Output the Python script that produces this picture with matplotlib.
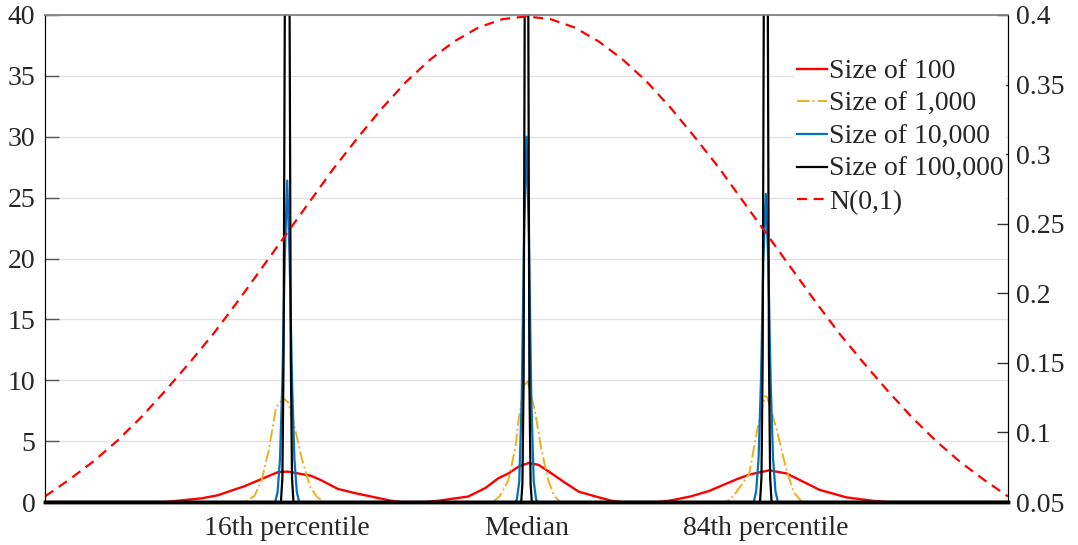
import matplotlib
matplotlib.use("Agg")
import matplotlib.pyplot as plt
import numpy as np
from matplotlib.ticker import FormatStrFormatter

# ── 数据 ────────────────────────────────────────────────────────

tick_pos = [-0.994, 0.0, 0.994]
tick_labels = ["16th percentile", "Median", "84th percentile"]

# Size of 100
x_100 = [-2.0, -1.50, -1.45, -1.35, -1.283, -1.171, -1.075, -1.033, -0.992, -0.95,
         -0.896, -0.854, -0.783, -0.7125, -0.617, -0.5625, -0.52,
         -0.42, -0.367, -0.242, -0.171, -0.117, -0.075, -0.033, 0.008, 0.05,
         0.104, 0.1625, 0.217, 0.2875, 0.354, 0.40,
         0.54, 0.592, 0.68, 0.758, 0.871, 0.925, 1.008, 1.079, 1.146, 1.217,
         1.329, 1.4375, 1.50, 2.0]
y_100 = [0, 0, 0.1, 0.3, 0.55, 1.3, 2.1, 2.45, 2.5, 2.35,
         2.16, 1.8, 1.07, 0.73, 0.33, 0.1, 0,
         0, 0.1, 0.45, 1.15, 1.95, 2.35, 2.9, 3.2, 3.05,
         2.35, 1.55, 0.85, 0.45, 0.1, 0,
         0, 0.1, 0.45, 0.9, 1.85, 2.25, 2.6, 2.35, 1.7, 1.0,
         0.38, 0.1, 0, 0]

# Size of 1,000
x_1k = [-2.0, -1.17, -1.13, -1.10, -1.07, -1.04, -1.01, -0.99, -0.96, -0.935,
        -0.90, -0.87, -0.84,
        -0.14, -0.11, -0.075, -0.046, -0.033, -0.01, 0.005, 0.035, 0.06,
        0.09, 0.115, 0.14,
        0.83, 0.86, 0.925, 0.958, 0.99, 1.00, 1.04, 1.08, 1.11, 1.14, 1.16, 2.0]
y_1k = [0, 0, 0.5, 1.8, 4.3, 7.8, 8.5, 8.2, 5.9, 3.7,
        1.3, 0.4, 0,
        0, 0.5, 1.8, 4.5, 6.7, 9.6, 9.9, 7.5, 4.5,
        1.8, 0.5, 0,
        0, 0.5, 2.3, 5.9, 8.7, 8.6, 5.9, 2.6, 0.8, 0.1, 0, 0]

# Size of 10,000
x_10k = [-2.0, -1.044, -1.034, -1.024, -1.014, -1.004, -0.994, -0.984, -0.974,
         -0.964, -0.954, -0.944,
         -0.048, -0.04, -0.03, -0.02, -0.01, 0.0, 0.01, 0.02, 0.03, 0.04, 0.048,
         0.944, 0.954, 0.964, 0.974, 0.984, 0.994, 1.004, 1.014, 1.024,
         1.034, 1.044, 2.0]
y_10k = [0, 0, 0.8, 3.5, 10, 20, 26.4, 20, 10,
         3.5, 0.8, 0,
         0, 0.2, 1.7, 8.4, 22, 30, 22, 8.4, 1.7, 0.2, 0,
         0, 0.9, 3.6, 10, 20, 25.3, 20, 10, 3.6,
         0.9, 0, 0]

# Size of 100,000
x_100k = [-2.0, -1.02, -1.014, -1.009, -1.004, -0.999, -0.994, -0.989, -0.984,
          -0.979, -0.974, -0.968,
          -0.022, -0.017, -0.012, -0.0075, -0.004, 0.0, 0.004, 0.0075, 0.012,
          0.017, 0.022,
          0.970, 0.976, 0.981, 0.9855, 0.9895, 0.994, 0.9985, 1.0025, 1.007,
          1.012, 1.018, 2.0]
y_100k = [0, 0, 2, 12, 40, 72, 90, 72, 40,
          12, 2, 0,
          0, 1.5, 10, 40, 80, 100, 80, 40, 10,
          1.5, 0,
          0, 2, 12, 40, 70, 88, 70, 40, 12,
          2, 0, 0]

# N(0,1) 概率密度（右轴）
x_norm = [-2.0, -1.9, -1.8, -1.7, -1.6, -1.5, -1.4, -1.3, -1.2, -1.1, -1.0,
          -0.9, -0.8, -0.7, -0.6, -0.5, -0.4, -0.3, -0.2, -0.1, 0.0,
          0.1, 0.2, 0.3, 0.4, 0.5, 0.6, 0.7, 0.8, 0.9, 1.0,
          1.1, 1.2, 1.3, 1.4, 1.5, 1.6, 1.7, 1.8, 1.9, 2.0]
y_norm = [0.054, 0.066, 0.079, 0.094, 0.111, 0.130, 0.150, 0.171, 0.194, 0.218, 0.242,
          0.266, 0.290, 0.312, 0.333, 0.352, 0.368, 0.381, 0.391, 0.397, 0.399,
          0.397, 0.391, 0.381, 0.368, 0.352, 0.333, 0.312, 0.290, 0.266, 0.242,
          0.218, 0.194, 0.171, 0.150, 0.130, 0.111, 0.094, 0.079, 0.066, 0.054]

# ── 样式 ──────────────────────────────────────────────────────────────────

plt.rcParams["font.family"] = ["Liberation Serif", "DejaVu Serif"]
plt.rcParams["font.size"] = 20

fig = plt.figure(figsize=(10.78, 5.45), dpi=100)
ax = fig.add_axes([45 / 1078, 1 - 502 / 545, 963 / 1078, 487 / 545])
ax2 = ax.twinx()

# ── 曲线 ──────────────────────────────────────────────────────────────────

h1, = ax.plot(x_100, y_100, color="#ff0000", lw=1.7, label="Size of 100", zorder=2)
h2, = ax.plot(x_1k, y_1k, color="#EDB120", lw=1.4, ls="-.", label="Size of 1,000", zorder=3)
h3, = ax.plot(x_10k, y_10k, color="#0072BD", lw=1.6, label="Size of 10,000", zorder=4)
h4, = ax.plot(x_100k, y_100k, color="black", lw=1.6, label="Size of 100,000", zorder=5)
h5, = ax2.plot(x_norm, y_norm, color="#ff0000", lw=1.6, ls=(0, (4.5, 3)), label="N(0,1)")

# ── 坐标轴 ────────────────────────────────────────────────────────────────

ax.set_xlim(-2.0, 2.0)
ax.set_ylim(0, 40)
ax.set_yticks(np.arange(0, 41, 5))
ax2.set_ylim(0.05, 0.4)
ax2.set_yticks([0.05, 0.1, 0.15, 0.2, 0.25, 0.3, 0.35, 0.4])
ax2.yaxis.set_major_formatter(FormatStrFormatter("%g"))

ax.set_xticks(tick_pos)
ax.set_xticklabels(tick_labels)
ax.tick_params(axis="x", length=0, pad=10, colors="#262626")
ax.tick_params(axis="y", direction="in", length=10, width=1, color="#555555",
               labelcolor="#262626", pad=7)
ax2.tick_params(axis="y", direction="in", length=8, width=1, color="#333333",
                labelcolor="#262626", pad=6)

ax.grid(axis="y", color="#e3e3e3", lw=1)
ax.set_axisbelow(True)

for a in (ax, ax2):
    a.spines["top"].set_color("#888888")
    a.spines["top"].set_linewidth(1.2)
    a.spines["left"].set_color("black")
    a.spines["right"].set_color("black")
    a.spines["bottom"].set_color("black")
    a.spines["bottom"].set_linewidth(2.5)
    a.spines["bottom"].set_zorder(10)

# ── 图例 ──────────────────────────────────────────────────────────────────

leg = ax2.legend(handles=[h1, h2, h3, h4, h5], loc="upper left",
                 bbox_to_anchor=(794 / 1078, 1 - 56 / 545),
                 bbox_transform=fig.transFigure,
                 frameon=True, facecolor="white", edgecolor="none", framealpha=1,
                 borderpad=0.1, borderaxespad=0, handlelength=1.1,
                 handletextpad=0.05, labelspacing=0.26, fancybox=False)
for t in leg.get_texts():
    t.set_color("#262626")

fig.savefig("out.png", dpi=100)
